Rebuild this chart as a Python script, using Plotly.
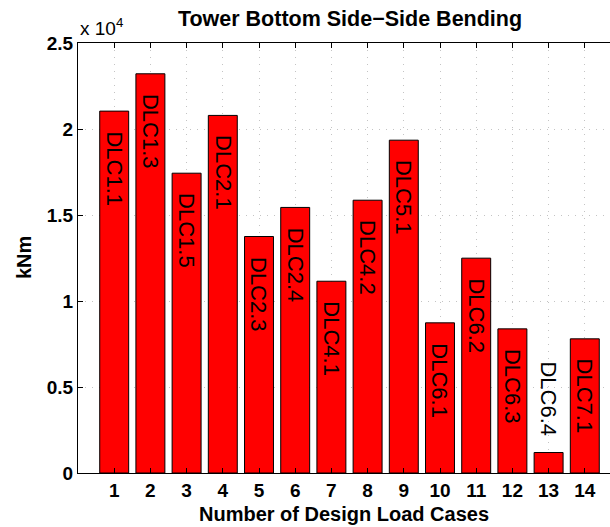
import plotly.graph_objects as go

cases = list(range(1, 15))
labels = ["DLC1.1", "DLC1.3", "DLC1.5", "DLC2.1", "DLC2.3", "DLC2.4", "DLC4.1",
          "DLC4.2", "DLC5.1", "DLC6.1", "DLC6.2", "DLC6.3", "DLC6.4", "DLC7.1"]
moments = [21040, 23210, 17430, 20790, 13750, 15440, 11150,
           15860, 19350, 8730, 12490, 8380, 1190, 7800]
ytick_vals = [0, 5000, 10000, 15000, 20000, 25000]
ytick_text = ["0", "0.5", "1", "1.5", "2", "2.5"]

FONT = "Arial, Liberation Sans, Helvetica, sans-serif"

fig = go.Figure()
fig.add_trace(go.Bar(
    x=cases, y=moments, width=0.8,
    marker=dict(color="#ff0000", line=dict(color="#000000", width=1)),
    hoverinfo="x+y",
))

annotations = []
for c, v, lab in zip(cases, moments, labels):
    inside = v > 3000
    annotations.append(dict(
        x=c, y=v, xref="x", yref="y", text=lab, showarrow=False,
        textangle=90, font=dict(family=FONT, size=22, color="#000000"),
        xanchor="center",
        yanchor="top" if inside else "bottom",
        yshift=-18 if inside else 14,
    ))

annotations.append(dict(
    x=0, y=1, xref="paper", yref="paper", text="x 10<sup>4</sup>",
    showarrow=False, xanchor="left", yanchor="bottom", xshift=0, yshift=2,
    font=dict(family=FONT, size=19, color="#000000"),
))
annotations.append(dict(
    x=0.5, y=0, xref="paper", yref="paper", text="<b>Number of Design Load Cases</b>",
    showarrow=False, xanchor="center", yanchor="middle", yshift=-41,
    font=dict(family=FONT, size=20, color="#000000"),
))
annotations.append(dict(
    x=0, y=0.5, xref="paper", yref="paper", text="<b>kNm</b>",
    showarrow=False, xanchor="center", yanchor="middle", xshift=-54, textangle=-90,
    font=dict(family=FONT, size=20, color="#000000"),
))

fig.update_layout(
    width=610, height=527,
    margin=dict(l=78, r=0, t=43, b=54),
    paper_bgcolor="#ffffff", plot_bgcolor="#ffffff",
    showlegend=False,
    bargap=0.2,
    title=dict(text="<b>Tower Bottom Side\u2212Side Bending</b>",
               x=350/610, xref="container", xanchor="center",
               y=1-18/527, yref="container", yanchor="middle",
               font=dict(family=FONT, size=21.5, color="#000000")),
    annotations=annotations,
    xaxis=dict(
        range=[0, 532/36.2], tickmode="array", tickvals=cases,
        ticktext=[str(c) for c in cases],
        ticks="inside", ticklen=5, tickcolor="#000000",
        showline=True, linecolor="#000000", linewidth=1, mirror="ticks",
        showgrid=True, gridcolor="#c4c4c4", griddash="1px,6px", gridwidth=1,
        zeroline=False,
        tickfont=dict(family=FONT, size=19, color="#000000", weight="bold"),
    ),
    yaxis=dict(
        range=[0, 25000], tickmode="array", tickvals=ytick_vals, ticktext=ytick_text,
        ticks="inside", ticklen=5, tickcolor="#000000",
        showline=True, linecolor="#000000", linewidth=1, mirror=False,
        showgrid=True, gridcolor="#c4c4c4", griddash="1px,6px", gridwidth=1,
        zeroline=False,
        tickfont=dict(family=FONT, size=19, color="#000000", weight="bold"),
    ),
)

fig.write_html("out.html", config={"displayModeBar": False},
               post_script="document.body.style.margin='0px';document.body.style.overflow='hidden';")
